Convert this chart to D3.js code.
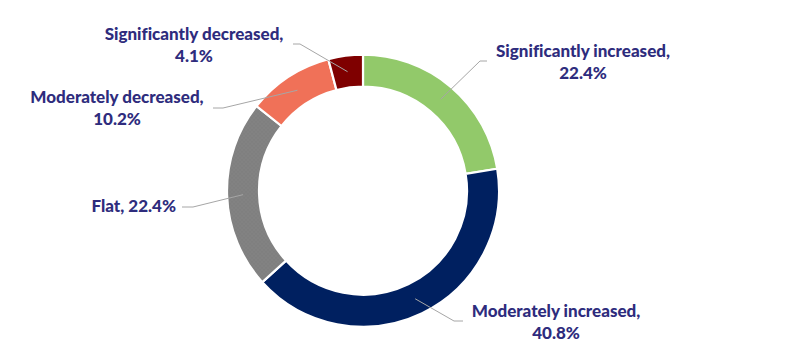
<!DOCTYPE html>
<html><head><meta charset="utf-8">
<script src="https://cdn.jsdelivr.net/npm/d3@7"></script>
<style>body{margin:0;background:#fff}svg{display:block}</style>
</head><body>
<svg id="c" width="787" height="360"></svg>
<script>
const categories = ["Significantly increased", "Moderately increased", "Flat", "Moderately decreased", "Significantly decreased"];
const values = [22.4, 40.8, 22.4, 10.2, 4.1];
const labelLines = [["Significantly increased,", "22.4%"], ["Moderately increased,", "40.8%"], ["Flat, 22.4%"], ["Moderately decreased,", "10.2%"], ["Significantly decreased,", "4.1%"]];
const colors = ["#92c96a", "#002060", "#7f7f7f", "#f07158", "#7f0000"];

// layout (positions only)
const cx = 363, cy = 190.7, rOuter = 136, rInner = 104;
const labelLayout = [
  {elbow:[480,61], end:[487,61], tx:583, ty:57, anchor:"middle"},
  {elbow:[454,321], end:[463,321], tx:556, ty:317, anchor:"middle"},
  {elbow:[193,207], end:[182,207], tx:176, ty:212, anchor:"end"},
  {elbow:[223,108], end:[213,108], tx:117, ty:103, anchor:"middle"},
  {elbow:[300,44], end:[293,44], tx:194, ty:40, anchor:"middle"}
];

const svg = d3.select("#c");
const defs = svg.append("defs");
const pat = defs.append("pattern").attr("id","dots").attr("width",4).attr("height",4).attr("patternUnits","userSpaceOnUse");
pat.append("rect").attr("width",4).attr("height",4).attr("fill","#7f7f7f");
pat.append("circle").attr("cx",1).attr("cy",1).attr("r",0.6).attr("fill","#8e8e8e");
pat.append("circle").attr("cx",3).attr("cy",3).attr("r",0.6).attr("fill","#8e8e8e");

const pie = d3.pie().sort(null).value(d => d);
const arcs = pie(values);
const arc = d3.arc().innerRadius(rInner).outerRadius(rOuter);
const g = svg.append("g").attr("transform", `translate(${cx},${cy})`);
g.selectAll("path").data(arcs).join("path")
  .attr("d", arc)
  .attr("fill", (d,i) => i === 2 ? "url(#dots)" : colors[i])
  .attr("stroke", "#fff").attr("stroke-width", 2.2);

// leader lines
const mid = d3.arc().innerRadius((rInner+rOuter)/2).outerRadius((rInner+rOuter)/2);
arcs.forEach((d,i) => {
  const c = mid.centroid(d);
  const L = labelLayout[i];
  svg.append("polyline")
    .attr("points", [[cx+c[0], cy+c[1]], L.elbow, L.end].map(p=>p.join(",")).join(" "))
    .attr("fill","none").attr("stroke","#a6a6a6").attr("stroke-width",1);
});

// labels
labelLines.forEach((lines,i) => {
  const L = labelLayout[i];
  const t = svg.append("text")
    .attr("text-anchor", L.anchor)
    .attr("font-family", "Lato, 'Open Sans', sans-serif")
    .attr("font-weight", 900).attr("font-size", 17)
    .style("font-variant-ligatures", "none")
    .attr("fill", "#2e2c7d");
  lines.forEach((s,k) => t.append("tspan").attr("x", L.tx).attr("y", L.ty + k*22).text(s));
});
</script>
</body></html>
